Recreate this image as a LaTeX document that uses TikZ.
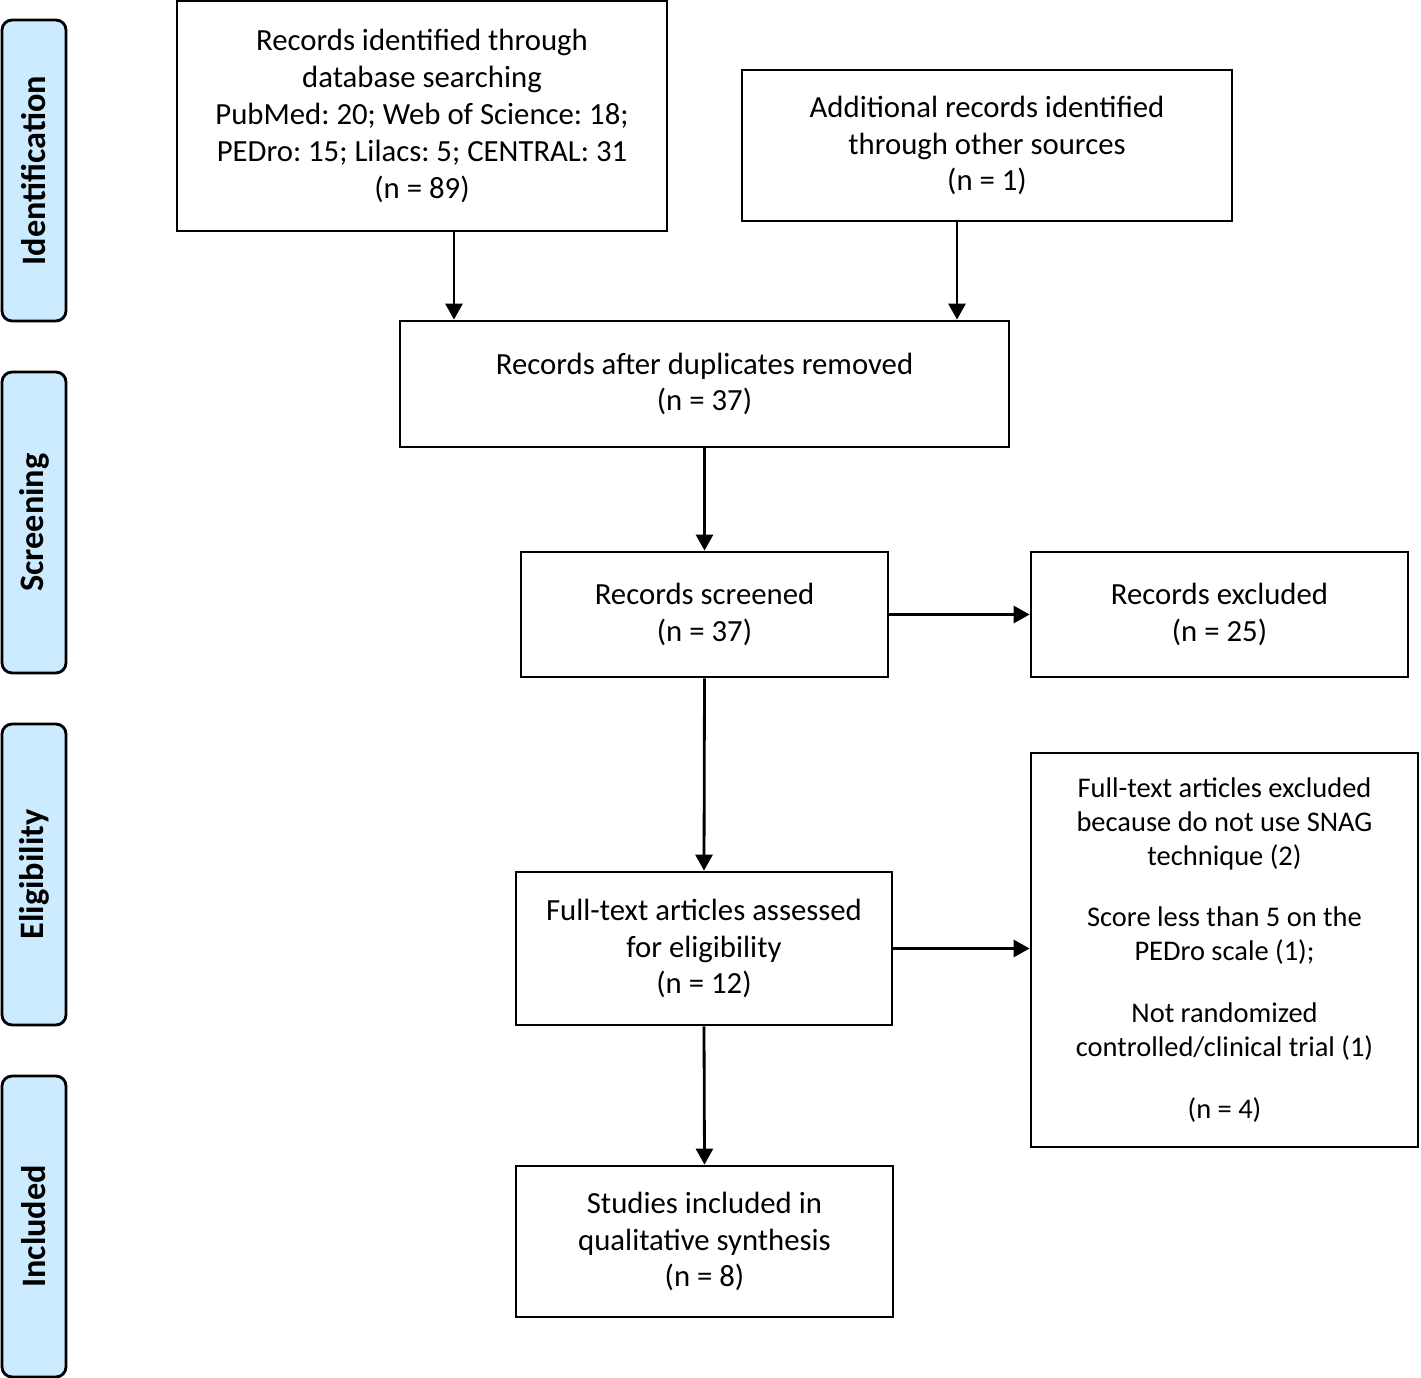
\documentclass[tikz,border=0pt]{standalone}
\usepackage{fontspec}
\setmainfont{Carlito}
\frenchspacing
\usetikzlibrary{arrows.meta, positioning}
\definecolor{stagefill}{RGB}{204,235,255}

\begin{document}
\begin{tikzpicture}[x=0.02cm, y=-0.02cm, font=\fontsize{17.5}{21}\selectfont, line width=1.6pt,
  >={Triangle[length=0.32cm,width=0.34cm]},
  box/.style={draw, align=center, inner sep=0pt},
  stage/.style={draw, fill=stagefill, rounded corners=0.2cm, rotate=90, inner sep=0pt,
    minimum width=6.02cm, minimum height=1.28cm, font=\bfseries\fontsize{19.5}{21}\selectfont}]
\useasboundingbox (0,0) rectangle (1421,1378);

% phases
\node[stage] (ident) at (34,170.5) {Identification};
\node[stage] (screen) at (34,522.5) {Screening};
\node[stage] (elig) at (34,874.5) {Eligibility};
\node[stage] (inclst) at (34,1226.5) {Included};

% boxes
\node[box, minimum width=9.8cm, minimum height=4.6cm] (db) at (422,116) {Records identified through\\database searching\\PubMed: 20; Web of Science: 18;\\PEDro: 15; Lilacs: 5; CENTRAL: 31\\(n = 89)};
\node[box, minimum width=9.8cm, minimum height=3.02cm] (other) at (987,145.5) {Additional records identified\\through other sources\\(n = 1)};
\node[box, minimum width=12.18cm, minimum height=2.52cm] (dup) at (704.5,384) {Records after duplicates removed\\(n = 37)};
\node[box, minimum width=7.34cm, minimum height=2.5cm] (screened) at (704.5,614.5) {Records screened\\(n = 37)};
\node[box, minimum width=7.54cm, minimum height=2.5cm] (excl) at (1219.5,614.5) {Records excluded\\(n = 25)};
\node[box, minimum width=7.52cm, minimum height=3.06cm] (full) at (704,948.5) {Full-text articles assessed\\for eligibility\\(n = 12)};
\node[box, minimum width=7.74cm, minimum height=7.88cm, font=\fontsize{16.2}{19.3}\selectfont] (fullexcl) at (1224.5,950) {Full-text articles excluded\\because do not use SNAG\\technique (2)\\[0.56cm]Score less than 5 on the\\PEDro scale (1);\\[0.56cm]Not randomized\\controlled/clinical trial (1)\\[0.56cm](n = 4)};
\node[box, minimum width=7.54cm, minimum height=3.02cm] (incl) at (704.5,1241.5) {Studies included in\\qualitative synthesis\\(n = 8)};

% connectors
\draw[->] ([xshift=0.64cm]db.south) -- ([xshift=0.64cm]db.south |- dup.north);
\draw[->] ([xshift=-0.6cm]other.south) -- ([xshift=-0.6cm]other.south |- dup.north);
\draw[->] (dup.south) -- (screened.north);
\draw[->] (screened.east) -- (excl.west);
\draw[->] (screened.south) -- (full.north);
\draw[->] (full.east) -- (full.east -| fullexcl.west);
\draw[->] (full.south) -- (incl.north);

\end{tikzpicture}
\end{document}
